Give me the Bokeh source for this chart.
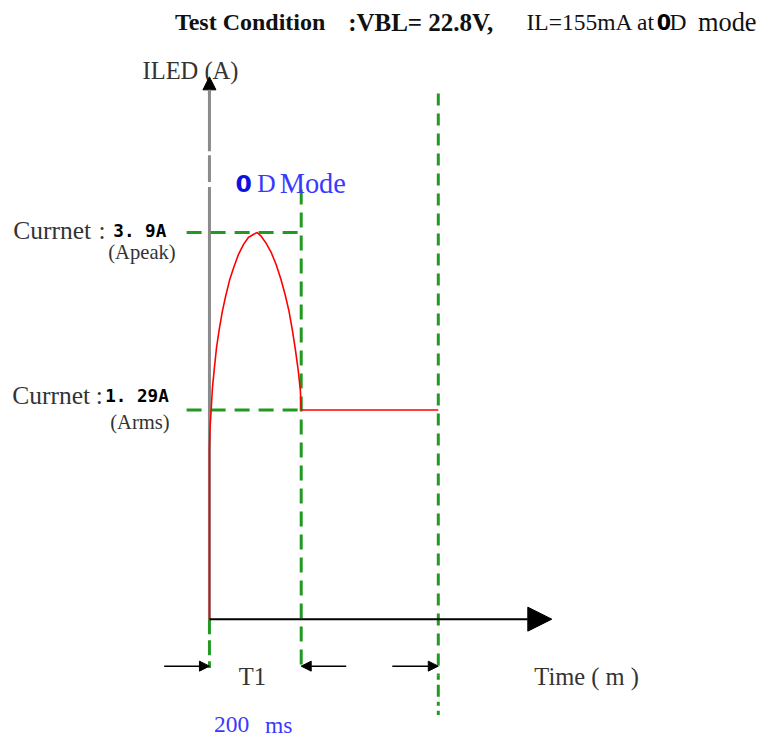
from bokeh.plotting import figure
from bokeh.models import Range1d, Arrow, NormalHead
from bokeh.core.properties import value
from bokeh.embed import file_html
from bokeh.resources import INLINE

# ---------------- data (schematic units: ms, level) ----------------
t_curve = [0, 0, 1.2, 3.6, 6.5, 10.7, 15.5, 21.3, 28, 35.5, 44, 53.2, 63.5, 74.5,
           85, 95.8, 104, 113.5, 124, 134.8, 145.5, 156, 165, 173.7, 181, 188,
           194, 198.6, 200.5, 500]
i_curve = [0, 1.71, 1.92, 2.10, 2.33, 2.53, 2.74, 2.92, 3.10, 3.26, 3.42, 3.55,
           3.68, 3.78, 3.85, 3.88, 3.90, 3.86, 3.79, 3.70, 3.58, 3.43, 3.28,
           3.11, 2.92, 2.71, 2.51, 2.31, 2.11, 2.11]
T1 = 200.5          # end of 0D mode burst (ms)
PERIOD = 500        # end of period (ms)
peak_level = 3.9
rms_level = 2.11    # schematic height of the 1.29 A level
peak_label = "3. 9A"
rms_label = "1. 29A"
t_axis_end = 748
y_axis_end = 5.47

GREEN = "#229a22"
SERIF = "Liberation Serif"
F = 764 / 780       # font scale

p = figure(width=764, height=739, output_backend="svg", toolbar_location=None,
           x_axis_type=None, y_axis_type=None, min_border=0,
           x_range=Range1d(-456.5, 1212.7), y_range=Range1d(-1.214, 6.240))
p.outline_line_color = None
p.background_fill_color = "white"

# y axis (grey, with small gaps) and arrow head
p.multi_line(xs=[[0, 0], [0, 0], [0, 0]],
             ys=[[0, 4.36], [4.41, 4.68], [4.72, 5.36]],
             line_color="#8a8a8a", line_width=3)
p.add_layout(Arrow(x_start=0, y_start=5.30, x_end=0, y_end=y_axis_end,
                   line_color="#8a8a8a", line_width=3,
                   end=NormalHead(size=13, fill_color="black", line_color="black")))

# x axis
p.add_layout(Arrow(x_start=0, y_start=0, x_end=t_axis_end, y_end=0,
                   line_color="black", line_width=2,
                   end=NormalHead(size=24, fill_color="black", line_color="black")))

# green dashed guide lines
p.line([-49.9, T1], [peak_level, peak_level], line_color=GREEN, line_width=3, line_dash="15 9")
p.line([-49.9, T1], [rms_level, rms_level], line_color=GREEN, line_width=3, line_dash="15 9")
p.line([T1, T1], [4.334, -0.494], line_color=GREEN, line_width=3, line_dash="15 8")
p.line([0, 0], [0, -0.494], line_color=GREEN, line_width=3, line_dash="15 6")
p.line([PERIOD, PERIOD], [5.302, -0.57], line_color=GREEN, line_width=3, line_dash="12 8")
p.line([PERIOD, PERIOD], [-0.57, -0.968], line_color=GREEN, line_width=3, line_dash="4 5 12 5")

# red current waveform
p.line(t_curve, i_curve, line_color="red", line_width=1.6)

# timing arrows
for xs, xe in [(-98.9, 0), (298.8, T1), (399.5, PERIOD)]:
    p.add_layout(Arrow(x_start=xs, y_start=-0.474, x_end=xe, y_end=-0.474,
                       line_color="black", line_width=1.5,
                       end=NormalHead(size=10, fill_color="black", line_color="black")))

def txt(x, y, s, size, color="#333333", font=SERIF, style="normal", align="left"):
    p.text(x=[x], y=[y], text=[s], text_font=value(font),
           text_font_size=f"{size * F:.1f}px",
           text_color=color, text_font_style=style, text_align=align,
           text_baseline="middle")

# title
TY = 6.023
txt(-75.5, TY, "Test Condition", 24.5, "#111111", style="bold")
txt(303.0, TY, ":VBL= 22.8V,", 25.5, "#111111", style="bold")
txt(692.7, TY, "IL=155mA at", 24, "#111111")
txt(977.3, TY, "0", 21, "black", font="DejaVu Sans", style="bold")
txt(1005.2, TY, "D", 24, "#111111")
txt(1067.2, TY, "mode", 27, "#111111")

# axis labels
txt(-146.2, 5.529, "ILED (A)", 25)
txt(709.8, -0.583, "Time ( m )", 25)
txt(64.0, -0.583, "T1", 25)
txt(10.1, -1.066, "200", 24, "#3a3aff")
txt(121.3, -1.066, "ms", 24, "#3a3aff")

# mode label
txt(57.1, 4.394, "0", 24, "#1010e0", font="DejaVu Sans", style="bold")
txt(104.2, 4.394, "D", 26, "#3a3aff")
txt(153.4, 4.394, "Mode", 29, "#3a3aff")

# current labels
txt(-428.6, 3.92, "Currnet", 26)
txt(-242.2, 3.92, ":", 26)
txt(-210.0, 3.92, peak_label, 18, "black", font="DejaVu Sans Mono", style="bold")
txt(-221.1, 3.703, "(Apeak)", 21)
txt(-430.8, 2.251, "Currnet", 26)
txt(-248.6, 2.251, ":", 26)
txt(-227.7, 2.251, rms_label, 18, "black", font="DejaVu Sans Mono", style="bold")
txt(-216.8, 1.985, "(Arms)", 21)

open("out.html", "w").write(file_html(p, INLINE))
